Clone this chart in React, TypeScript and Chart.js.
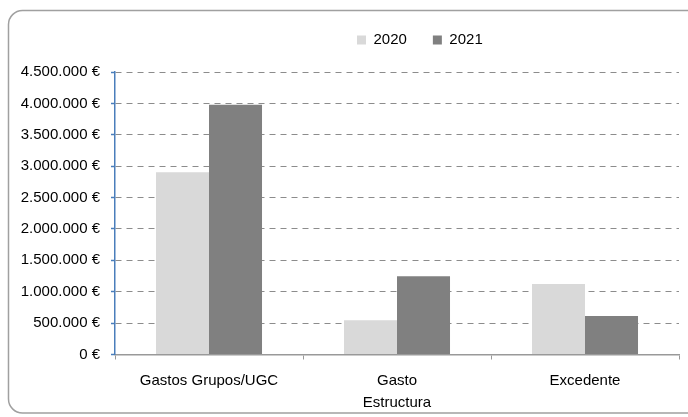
import React, { useEffect, useRef } from "react";
import { Chart, registerables } from "chart.js";

Chart.register(...registerables);

const categories: (string | string[])[] = ["Gastos Grupos/UGC", ["Gasto", "Estructura"], "Excedente"];
const seriesNames = ["2020", "2021"];
const values2020 = [2905000, 545000, 1125000];
const values2021 = [3980000, 1245000, 615000];
const yMin = 0;
const yMax = 4500000;
const yStep = 500000;

const FONT = "'Liberation Sans', Arial, sans-serif";

function fmtEuro(v: number): string {
  const s = Math.round(v).toString().replace(/\B(?=(\d{3})+(?!\d))/g, ".");
  return s + " €";
}

const framePlugin = {
  id: "frame",
  beforeDraw(chart: any) {
    const ctx = chart.ctx;
    ctx.save();
    ctx.fillStyle = "#ffffff";
    ctx.fillRect(0, 0, chart.width, chart.height);
    ctx.beginPath();
    ctx.roundRect(8.5, 10.5, 700, 402.5, 14);
    ctx.lineWidth = 1.5;
    ctx.strokeStyle = "#a0a0a0";
    ctx.stroke();
    ctx.restore();
  },
};

const legendPlacePlugin = {
  id: "legendPlace",
  afterLayout(chart: any) {
    const lg = chart.legend;
    if (!lg) return;
    const h = lg.bottom - lg.top;
    lg.left = 331;
    lg.top = 6.5;
    lg.bottom = lg.top + h;
  },
};

export default function App() {
  const ref = useRef<HTMLCanvasElement | null>(null);
  useEffect(() => {
    if (!ref.current) return;
    const chart = new Chart(ref.current, {
      type: "bar",
      data: {
        labels: categories,
        datasets: [
          {
            label: seriesNames[0],
            data: values2020,
            backgroundColor: "#d9d9d9",
            borderWidth: 0,
          },
          {
            label: seriesNames[1],
            data: values2021,
            backgroundColor: "#808080",
            borderWidth: 0,
          },
        ],
      },
      options: {
        responsive: false,
        animation: false,
        layout: { padding: { top: 21, left: 0, right: 9, bottom: 0 } },
        datasets: {
          bar: { categoryPercentage: 0.564, barPercentage: 1 },
        },
        plugins: {
          tooltip: { enabled: false },
          legend: {
            display: true,
            position: "top",
            align: "start",
            labels: {
              boxWidth: 9,
              boxHeight: 9,
              padding: 26,
              color: "#000",
              font: { family: FONT, size: 15 },
            },
          },
        },
        scales: {
          x: {
            grid: {
              display: true,
              drawOnChartArea: false,
              drawTicks: true,
              tickLength: 5,
              tickColor: "#999999",
              offset: true,
            },
            border: { display: true, color: "#999999", width: 1.5 },
            ticks: {
              color: "#000",
              padding: 11,
              maxRotation: 0,
              font: { family: FONT, size: 15, lineHeight: 1.43 },
            },
            afterFit(scale: any) {
              scale.height = 62.5;
            },
          },
          y: {
            min: yMin,
            max: yMax,
            ticks: {
              stepSize: yStep,
              color: "#000",
              padding: 11,
              font: { family: FONT, size: 15 },
              callback: (v: any) => fmtEuro(Number(v)),
            },
            grid: {
              color: (c: any) => (c.tick && c.tick.value === 0 ? "rgba(0,0,0,0)" : "#8c8c8c"),
              lineWidth: 1,
              drawTicks: true,
              tickLength: 4,
              tickColor: "#4a7ebb",
              tickBorderDash: [],
              tickWidth: 1.5,
            },
            border: { display: true, color: "#4a7ebb", width: 1.5, dash: [6, 5] },
            afterFit(scale: any) {
              scale.width = 115;
            },
          },
        },
      },
      plugins: [framePlugin, legendPlacePlugin],
    });
    return () => chart.destroy();
  }, []);
  return (
    <div style={{ position: "absolute", left: 0, top: 0, width: 688, height: 417 }}>
      <canvas ref={ref} width={688} height={417} style={{ display: "block" }} />
    </div>
  );
}
